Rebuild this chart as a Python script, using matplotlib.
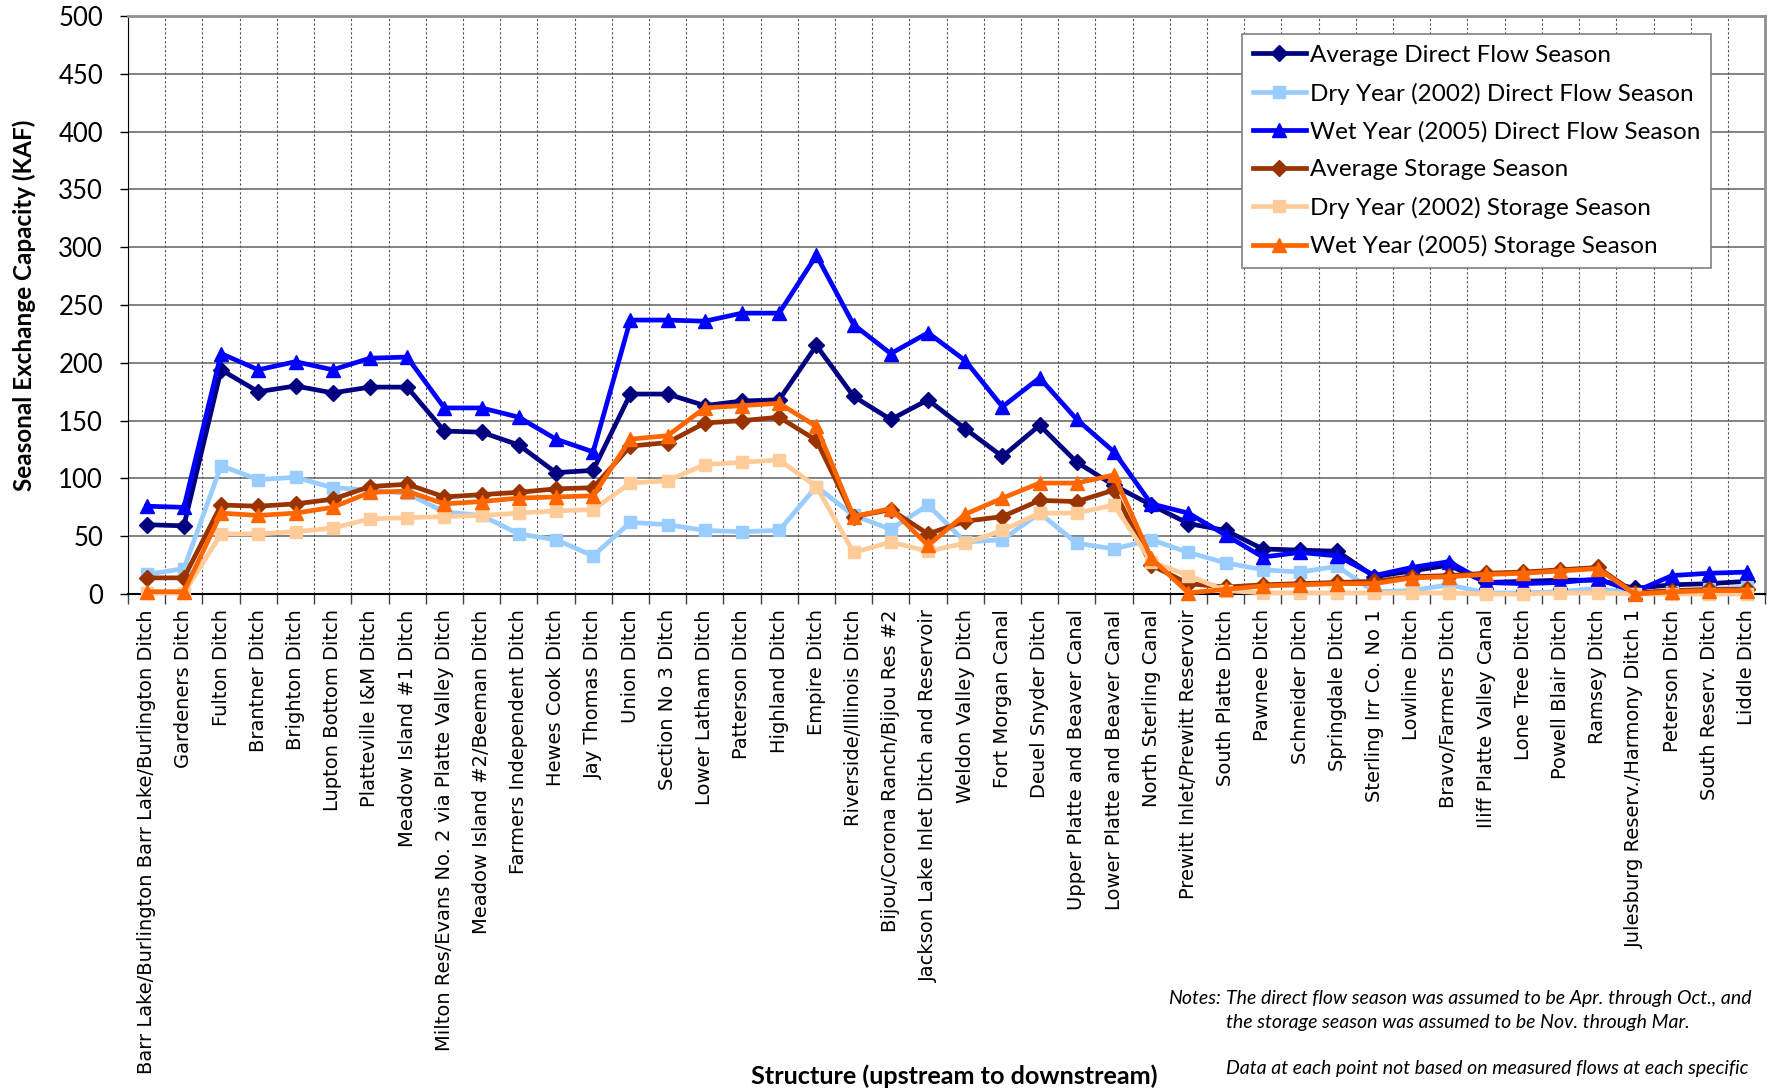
import matplotlib
matplotlib.use("Agg")
import matplotlib.pyplot as plt
from matplotlib import font_manager as fm
from matplotlib.ticker import FixedLocator, MultipleLocator

# Structures along the South Platte, upstream to downstream
structures = [
    "Barr Lake/Burlington Barr Lake/Burlington Ditch", "Gardeners Ditch",
    "Fulton Ditch", "Brantner Ditch", "Brighton Ditch", "Lupton Bottom Ditch",
    "Platteville I&M Ditch", "Meadow Island #1 Ditch",
    "Milton Res/Evans No. 2 via Platte Valley Ditch",
    "Meadow Island #2/Beeman Ditch", "Farmers Independent Ditch",
    "Hewes Cook Ditch", "Jay Thomas Ditch", "Union Ditch", "Section No 3 Ditch",
    "Lower Latham Ditch", "Patterson Ditch", "Highland Ditch", "Empire Ditch",
    "Riverside/Illinois Ditch", "Bijou/Corona Ranch/Bijou Res #2",
    "Jackson Lake Inlet Ditch and Reservoir", "Weldon Valley Ditch",
    "Fort Morgan Canal", "Deuel Snyder Ditch", "Upper Platte and Beaver Canal",
    "Lower Platte and Beaver Canal", "North Sterling Canal",
    "Prewitt Inlet/Prewitt Reservoir", "South Platte Ditch", "Pawnee Ditch",
    "Schneider Ditch", "Springdale Ditch", "Sterling Irr Co. No 1",
    "Lowline Ditch", "Bravo/Farmers Ditch", "Iliff Platte Valley Canal",
    "Lone Tree Ditch", "Powell Blair Ditch", "Ramsey Ditch",
    "Julesburg Reserv./Harmony Ditch 1", "Peterson Ditch",
    "South Reserv. Ditch", "Liddle Ditch",
]

# Seasonal exchange capacity, KAF
avg_direct = [60, 59, 194, 175, 180, 174, 179, 179, 141, 140, 129, 105, 107,
              173, 173, 163, 167, 168, 215, 171, 151, 168, 143, 119, 146, 114,
              94, 77, 61, 55, 39, 38, 37, 15, 20, 25, 10, 11, 12, 12, 5, 8, 9,
              11]
dry_direct = [17, 22, 111, 99, 101, 92, 90, 87, 71, 68, 52, 47, 33, 62, 60,
              55, 54, 55, 93, 68, 56, 77, 45, 47, 70, 44, 39, 47, 36, 27, 21,
              19, 24, 2, 3, 8, 1, 1, 2, 5, 0, 2, 4, 6]
wet_direct = [76, 75, 208, 194, 201, 194, 204, 205, 161, 161, 153, 134, 123,
              237, 237, 236, 243, 243, 293, 233, 208, 226, 202, 162, 187, 151,
              123, 78, 70, 51, 32, 36, 33, 16, 23, 28, 10, 9, 10, 13, 2, 16,
              18, 19]
avg_storage = [14, 14, 77, 76, 78, 82, 93, 95, 84, 86, 88, 91, 92, 128, 131,
               148, 150, 153, 133, 67, 73, 52, 63, 67, 81, 80, 90, 25, 9, 6, 8,
               9, 10, 11, 15, 16, 18, 19, 21, 23, 1, 3, 4, 4]
dry_storage = [1, 1, 52, 52, 54, 57, 65, 66, 67, 68, 70, 72, 73, 96, 98, 112,
               114, 116, 93, 36, 45, 37, 44, 55, 70, 70, 77, 28, 16, 3, 1, 1, 1,
               1, 1, 1, 0, 0, 1, 1, 0, 0, 0, 0]
wet_storage = [2, 2, 70, 68, 70, 75, 88, 89, 78, 80, 83, 84, 85, 134, 137,
               161, 163, 165, 145, 67, 74, 42, 69, 83, 96, 96, 103, 31, 1, 4, 7,
               8, 9, 9, 14, 15, 17, 18, 20, 22, 0, 2, 3, 3]

series = [
    ("Average Direct Flow Season", avg_direct, "#000080", "D", 8.5),
    ("Dry Year (2002) Direct Flow Season", dry_direct, "#99CCFF", "s", 9),
    ("Wet Year (2005) Direct Flow Season", wet_direct, "#0000FF", "^", 10.5),
    ("Average Storage Season", avg_storage, "#993300", "D", 8.5),
    ("Dry Year (2002) Storage Season", dry_storage, "#FFCC99", "s", 9),
    ("Wet Year (2005) Storage Season", wet_storage, "#FF6600", "^", 10.5),
]

installed = {f.name for f in fm.fontManager.ttflist}
body = ["Lato", "DejaVu Sans"]
digits = next((n for n in ("Liberation Sans Narrow", "DejaVu Sans Condensed")
               if n in installed), "Lato")

fig = plt.figure(figsize=(17.74, 10.90), dpi=100)
ax = fig.add_axes([0.0722, 0.455, 0.9228, 0.5303])

x = list(range(len(structures)))
for label, vals, color, marker, ms in series:
    ax.plot(x, vals, color=color, lw=3.4, marker=marker, ms=ms,
            markeredgecolor=color, label=label, clip_on=False, zorder=3)

ax.set_xlim(-0.5, len(structures) - 0.5)
ax.set_ylim(0, 500)
ax.yaxis.set_major_locator(MultipleLocator(50))

# category labels at centres, tick marks and grid at the boundaries
ax.set_xticks(x)
ax.set_xticklabels(structures, rotation=90, fontsize=14,
                   family="DejaVu Sans")
ax.xaxis.set_minor_locator(FixedLocator([i - 0.5 for i in range(len(x) + 1)]))
ax.tick_params(axis="x", which="major", length=0, pad=11)
ax.tick_params(axis="x", which="minor", length=7, width=1, color="#404040")
ax.tick_params(axis="y", length=6, width=1, pad=12)
for t in ax.get_yticklabels():
    t.set_family([digits, "DejaVu Sans"])
    t.set_fontsize(18.5)

ax.grid(axis="y", which="major", color="#606060", lw=1.1, zorder=0)
ax.grid(axis="x", which="minor", color="#505050", lw=0.8, ls=(0, (2, 2)),
        zorder=0)

for side in ("top", "right"):
    ax.spines[side].set_color("#909090")
    ax.spines[side].set_linewidth(2)
ax.spines["left"].set_color("black")
ax.spines["bottom"].set_color("black")
ax.spines["bottom"].set_linewidth(1.5)

ax.set_ylabel("Seasonal Exchange Capacity (KAF)", family=body,
              fontsize=17.5, fontweight="bold")
ax.yaxis.set_label_coords(-0.056, 0.5)

leg = ax.legend(loc="upper right", bbox_to_anchor=(0.967, 0.969),
                borderaxespad=0, fancybox=False, framealpha=1,
                edgecolor="#808080", prop={"family": body, "size": 17.5},
                handlelength=2.2, handletextpad=0.15, labelspacing=0.68,
                borderpad=0.45)
leg.get_frame().set_linewidth(1.2)

fig.text(0.5377, 0.0128, "Structure (upstream to downstream)", ha="center",
         va="center", family=body, fontsize=18.2, fontweight="bold")

notes_x = 0.691
fig.text(notes_x - 0.003, 0.0844, "Notes:", ha="right", va="center",
         family=body, fontsize=14, style="italic")
fig.text(notes_x, 0.0844,
         "The direct flow season was assumed to be Apr. through Oct., and",
         ha="left", va="center", family=body, fontsize=14, style="italic")
fig.text(notes_x, 0.0615,
         "the storage season was assumed to be Nov. through Mar.",
         ha="left", va="center", family=body, fontsize=14, style="italic")
fig.text(notes_x, 0.0193,
         "Data at each point not based on measured flows at each specific",
         ha="left", va="center", family=body, fontsize=14, style="italic")

fig.savefig("out.png", dpi=100)
plt.close(fig)
